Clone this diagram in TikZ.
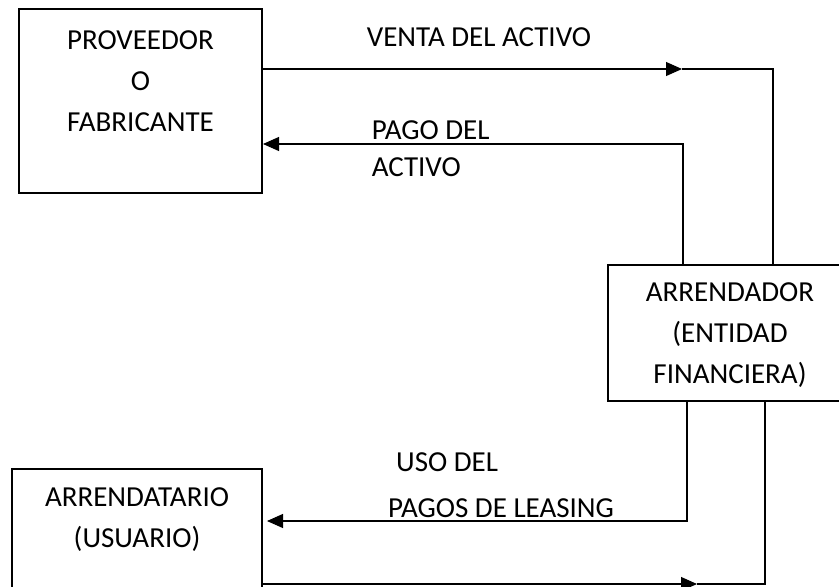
\documentclass[tikz,border=0pt]{standalone}
\usepackage{fontspec}
\setmainfont{Carlito}
\usepackage{tikz}
\usetikzlibrary{arrows.meta}

\tikzset{
    box/.style={draw=black, line width=1.1pt, inner sep=0pt},
    boxtext/.style={align=center, inner sep=0pt, font=\fontsize{29}{41}\selectfont},
    flowtext/.style={anchor=west, inner sep=0pt, font=\fontsize{29}{41}\selectfont},
    flow/.style={draw=black, line width=1.1pt, -{Triangle[length=16pt, width=14pt]}},
    wire/.style={draw=black, line width=1.1pt}
}

\begin{document}
\begin{tikzpicture}[x=1pt, y=1pt]
    \useasboundingbox (0,0) rectangle (839,-587);
    \clip (0,0) rectangle (839,-587);

    \node[box, minimum width=243pt, minimum height=184pt] (prov) at (140.5,-101) {};
    \node[boxtext] (provtext) at (140.5,-81) {PROVEEDOR\\O\\FABRICANTE};

    \node[box, minimum width=244pt, minimum height=136pt] (arrendador) at (730,-333) {};
    \node[boxtext] (arrendadortext) at (730,-335) {ARRENDADOR\\(ENTIDAD\\FINANCIERA)};

    \node[box, minimum width=250pt, minimum height=160pt] (arrendatario) at (137,-549) {};
    \node[boxtext] (arrendatariotext) at (137,-520) {ARRENDATARIO\\(USUARIO)};

    \coordinate (ventaTip) at (682,-69);
    \coordinate (ventaCorner) at (773,-69);
    \coordinate (pagoCorner) at (683,-144);
    \coordinate (pagoTip) at (263,-144);
    \coordinate (leasingCorner) at (687,-521);
    \coordinate (leasingTip) at (267,-521);
    \coordinate (usoStart) at (262,-584);
    \coordinate (usoTip) at (697,-584);
    \coordinate (usoCorner) at (765,-584);

    \draw[flow] (prov.east |- ventaTip) -- (ventaTip);
    \draw[wire] (ventaTip) -- (ventaCorner) -- (ventaCorner |- arrendador.north);
    \draw[flow] (pagoCorner |- arrendador.north) -- (pagoCorner) -- (pagoTip);
    \draw[flow] (leasingCorner |- arrendador.south) -- (leasingCorner) -- (leasingTip);
    \draw[flow] (usoStart) -- (usoTip);
    \draw[wire] (usoTip) -- (usoCorner) -- (usoCorner |- arrendador.south);

    \node[flowtext] (venta) at (366.7,-36.7) {VENTA DEL ACTIVO};
    \node[flowtext] (pago1) at (371.7,-130) {PAGO DEL};
    \node[flowtext] (pago2) at (371.7,-166.7) {ACTIVO};
    \node[flowtext] (uso) at (396,-461.7) {USO DEL};
    \node[flowtext] (leasing) at (388,-508) {PAGOS DE LEASING};
\end{tikzpicture}
\end{document}
